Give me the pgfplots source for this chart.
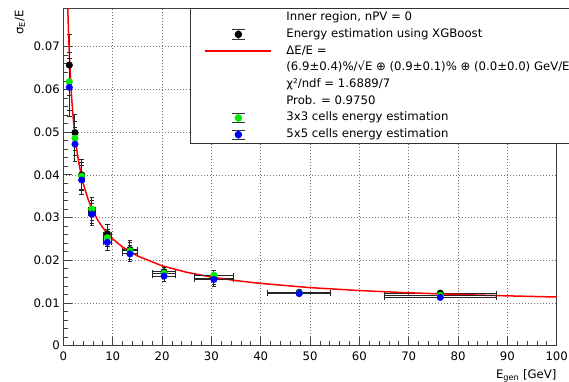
\documentclass[border=0pt]{standalone}
\usepackage{pgfplots}
\pgfplotsset{compat=1.18}
\usepackage{pgfplotstable}
\usepackage{fontspec}
\setmainfont{DejaVu Sans}

\pgfplotstableread{
x     ex    yb      eyb     yg      eyg     yl      eyl
1.2   0.2   0.0657  0.0072  0.0618  0.0068  0.0605  0.0068
2.35  0.35  0.0499  0.0042  0.0486  0.0040  0.0472  0.0040
3.7   0.5   0.0400  0.0035  0.0397  0.0033  0.0388  0.0033
5.75  0.7   0.0313  0.0027  0.0320  0.0026  0.0308  0.0026
8.9   0.85  0.0262  0.0021  0.0253  0.0020  0.0242  0.0019
13.5  1.5   0.0225  0.0022  0.0222  0.0020  0.0215  0.0019
20.4  2.4   0.0173  0.0013  0.0170  0.0012  0.0163  0.0012
30.5  3.9   0.0158  0.0019  0.0165  0.0012  0.0155  0.0012
47.8  6.4   0.0125  0.0005  0.0123  0.0005  0.0122  0.0005
76.4  11.4  0.0123  0.0005  0.0118  0.0005  0.0113  0.0005
}\data

\definecolor{rootgreen}{RGB}{0,235,0}
\definecolor{rootblue}{RGB}{0,0,255}
\definecolor{rootred}{RGB}{255,0,0}

\begin{document}
\begin{tikzpicture}
\begin{axis}[
  scale only axis, width=493.3pt, height=337.4pt,
  at={(0,0)}, anchor=south west,
  xmin=0, xmax=100, ymin=0, ymax=0.079,
  xtick={0,10,20,30,40,50,60,70,80,90,100},
  ytick={0,0.01,0.02,0.03,0.04,0.05,0.06,0.07},
  minor x tick num=4, minor y tick num=4,
  tick pos=left, tick align=inside,
  major tick length=9pt, minor tick length=4.5pt,
  grid=major,
  grid style={black!55, dash pattern=on 1pt off 2pt, line width=0.7pt},
  axis line style={black!75, line width=0.8pt},
  every tick/.style={black!75, line width=0.8pt},
  scaled y ticks=false,
  /pgf/number format/assume math mode=true,
  yticklabel style={/pgf/number format/fixed, /pgf/number format/precision=2},
  ticklabel style={font=\fontsize{11.7}{14}\selectfont},
  xticklabel style={inner sep=0pt, anchor=north, yshift=-6pt},
  yticklabel style={inner sep=0pt, anchor=east, xshift=-3.4pt},
  xlabel={E\textsubscript{gen} [GeV]},
  xlabel style={at={(rel axis cs:1,0)}, anchor=north east, inner sep=0pt, yshift=-23.5pt, font=\fontsize{11.7}{14}\selectfont},
  ylabel={σ\textsubscript{E}/E},
  ylabel style={at={(axis description cs:-0.077,0.994)}, anchor=south east, inner sep=0pt, font=\fontsize{11.7}{14}\selectfont},
  legend cell align=left,
  legend style={at={(axis description cs:0.2566,1)}, anchor=north west,
    draw=black!80, line width=0.8pt, fill=white,
    inner xsep=0pt, inner ysep=3pt, row sep=4.7pt,
    font=\fontsize{11.7}{14}\selectfont,
    nodes={inner sep=0pt, text height=9pt, text depth=3pt}},
]
% XGBoost (black)
\addplot[forget plot, only marks, mark=*, mark size=3.3pt, black,
  error bars/.cd, x dir=both, x explicit, y dir=both, y explicit,
  error bar style={black!85, line width=1pt},
  error mark options={rotate=90, mark size=2.2pt, line width=1pt, black!85}]
  table[x=x, y=yb, x error=ex, y error=eyb] {\data};
% fit curve
\addplot[forget plot, rootred, line width=1.5pt] coordinates {
 (0.85,0.08091) (0.9,0.07865) (1,0.07467) (1.25,0.06690) (1.5,0.06117) (1.75,0.05673)
 (2,0.05315) (2.5,0.04770) (3,0.04368) (3.5,0.04057) (4,0.03808) (5,0.03428)
 (6,0.03149) (7,0.02934) (8,0.02762) (9,0.02619) (10,0.02500) (12,0.02309)
 (15,0.02102) (20,0.01871) (25,0.01718) (30,0.01607) (35,0.01524) (40,0.01458)
 (50,0.01360) (60,0.01291) (70,0.01239) (80,0.01199) (90,0.01167) (100,0.01140)};
% 3x3 (green)
\addplot[forget plot, only marks, mark=*, mark size=3.3pt, rootgreen,
  error bars/.cd, x dir=both, x explicit, y dir=both, y explicit,
  error bar style={black!85, line width=1pt},
  error mark options={rotate=90, mark size=2.2pt, line width=1pt, black!85}]
  table[x=x, y=yg, x error=ex, y error=eyg] {\data};
% 5x5 (blue)
\addplot[forget plot, only marks, mark=*, mark size=3.3pt, rootblue,
  error bars/.cd, x dir=both, x explicit, y dir=both, y explicit,
  error bar style={black!85, line width=1pt},
  error mark options={rotate=90, mark size=2.2pt, line width=1pt, black!85}]
  table[x=x, y=yl, x error=ex, y error=eyl] {\data};

\addlegendimage{legend image code/.code={\path[draw=none,fill=none] (-15pt,-5pt) rectangle (81pt,5pt);}}
\addlegendentry{Inner region, nPV = 0}
\addlegendimage{legend image code/.code={
  \path[draw=none,fill=none] (-15pt,-5pt) rectangle (81pt,5pt);
  \draw[black!80, line width=0.8pt] (33pt,-4.7pt) -- (33pt,4.7pt) (26.5pt,-4.7pt) -- (39.5pt,-4.7pt) (26.5pt,4.7pt) -- (39.5pt,4.7pt);
  \fill[black] (33pt,0pt) circle (3.3pt);}}
\addlegendentry{Energy estimation using XGBoost}
\addlegendimage{legend image code/.code={
  \path[draw=none,fill=none] (-15pt,-5pt) rectangle (81pt,5pt);
  \draw[rootred, line width=1.5pt] (0pt,0pt) -- (66pt,0pt);}}
\addlegendentry{ΔE/E =}
\addlegendimage{legend image code/.code={\path[draw=none,fill=none] (-15pt,-5pt) rectangle (81pt,5pt);}}
\addlegendentry{(6.9±0.4)\%/√E ⊕ (0.9±0.1)\% ⊕ (0.0±0.0) GeV/E}
\addlegendimage{legend image code/.code={\path[draw=none,fill=none] (-15pt,-5pt) rectangle (81pt,5pt);}}
\addlegendentry{χ²/ndf = 1.6889/7}
\addlegendimage{legend image code/.code={\path[draw=none,fill=none] (-15pt,-5pt) rectangle (81pt,5pt);}}
\addlegendentry{Prob. = 0.9750}
\addlegendimage{legend image code/.code={
  \path[draw=none,fill=none] (-15pt,-5pt) rectangle (81pt,5pt);
  \draw[black!80, line width=0.8pt] (33pt,-4.7pt) -- (33pt,4.7pt) (26.5pt,-4.7pt) -- (39.5pt,-4.7pt) (26.5pt,4.7pt) -- (39.5pt,4.7pt);
  \fill[rootgreen] (33pt,0pt) circle (3.3pt);}}
\addlegendentry{3x3 cells energy estimation}
\addlegendimage{legend image code/.code={
  \path[draw=none,fill=none] (-15pt,-5pt) rectangle (81pt,5pt);
  \draw[black!80, line width=0.8pt] (33pt,-4.7pt) -- (33pt,4.7pt) (26.5pt,-4.7pt) -- (39.5pt,-4.7pt) (26.5pt,4.7pt) -- (39.5pt,4.7pt);
  \fill[rootblue] (33pt,0pt) circle (3.3pt);}}
\addlegendentry{5x5 cells energy estimation}
\end{axis}
\pgfresetboundingbox
\path (-63.4pt,-36.3pt) rectangle (505.6pt,345.7pt);
\end{tikzpicture}
\end{document}
